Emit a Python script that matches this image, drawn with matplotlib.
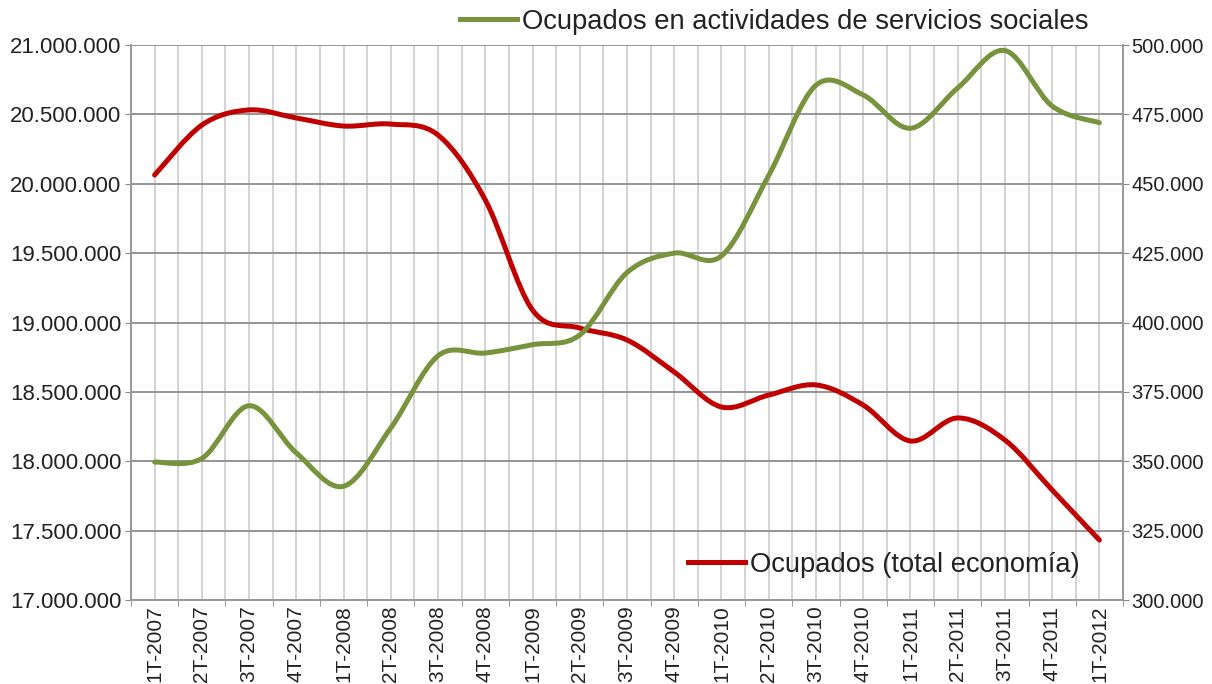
import matplotlib
matplotlib.use("Agg")
import matplotlib.pyplot as plt
from matplotlib.path import Path
from matplotlib.patches import PathPatch
from matplotlib.lines import Line2D
from matplotlib.ticker import FixedLocator

trimestres = ['1T-2007', '2T-2007', '3T-2007', '4T-2007',
              '1T-2008', '2T-2008', '3T-2008', '4T-2008',
              '1T-2009', '2T-2009', '3T-2009', '4T-2009',
              '1T-2010', '2T-2010', '3T-2010', '4T-2010',
              '1T-2011', '2T-2011', '3T-2011', '4T-2011',
              '1T-2012']

# ocupados total economia (eje izquierdo)
ocupados_total = [20063000, 20423000, 20532000, 20474000,
                  20416000, 20430000, 20351000, 19883000,
                  19090000, 18960000, 18874000, 18643000,
                  18391000, 18477000, 18550000, 18405000,
                  18146000, 18312000, 18153000, 17793000,
                  17432000]

# ocupados servicios sociales (eje derecho)
ocupados_sociales = [349700, 351000, 370000, 353000,
                     341000, 362000, 388000, 389000,
                     392000, 395500, 418000, 425000,
                     424000, 453000, 485500, 482000,
                     470000, 484500, 498000, 478000,
                     472000]

left_ticks = [17000000, 17500000, 18000000, 18500000,
              19000000, 19500000, 20000000, 20500000, 21000000]
left_labels = ['17.000.000', '17.500.000', '18.000.000', '18.500.000',
               '19.000.000', '19.500.000', '20.000.000', '20.500.000',
               '21.000.000']
right_ticks = [300000, 325000, 350000, 375000, 400000,
               425000, 450000, 475000, 500000]
right_labels = ['300.000', '325.000', '350.000', '375.000', '400.000',
                '425.000', '450.000', '475.000', '500.000']

RED = '#C00000'
GREEN = '#77933C'
FONT = ['Liberation Sans', 'DejaVu Sans']


def smooth_path(ys):
    # excel-style smoothed line: cubic bezier through every point
    xs = list(range(len(ys)))
    verts = [(xs[0], ys[0])]
    codes = [Path.MOVETO]
    n = len(ys)
    for i in range(n - 1):
        p0 = max(i - 1, 0)
        p3 = min(i + 2, n - 1)
        c1 = (xs[i] + (xs[i + 1] - xs[p0]) / 6, ys[i] + (ys[i + 1] - ys[p0]) / 6)
        c2 = (xs[i + 1] - (xs[p3] - xs[i]) / 6, ys[i + 1] - (ys[p3] - ys[i]) / 6)
        verts += [c1, c2, (xs[i + 1], ys[i + 1])]
        codes += [Path.CURVE4] * 3
    return Path(verts, codes)


fig = plt.figure(figsize=(12.12, 6.84), dpi=100)
ax = fig.add_axes([131 / 1212, 1 - 600 / 684, 992 / 1212, 555 / 684])
ax2 = ax.twinx()

ax.set_xlim(-0.5, len(trimestres) - 0.5)
ax.set_ylim(17000000, 21000000)
ax2.set_ylim(300000, 500000)

ax.xaxis.set_major_locator(FixedLocator(range(len(trimestres))))
ax.set_xticklabels(trimestres, rotation=90, fontsize=15, family=FONT, color='#222222')
ax.xaxis.set_minor_locator(FixedLocator([i - 0.5 for i in range(len(trimestres) + 1)]))
ax.set_yticks(left_ticks)
ax.set_yticklabels(left_labels, fontsize=16, family=FONT, color='#222222')
ax2.set_yticks(right_ticks)
ax2.set_yticklabels(right_labels, fontsize=14.5, family=FONT, color='#222222')

ax.grid(axis='x', which='both', color='#cccccc', linewidth=1.2)
ax.grid(axis='y', which='major', color='#8c8c8c', linewidth=1.3)
ax.set_axisbelow(True)
ax.tick_params(axis='x', which='major', length=0, pad=4)
ax.tick_params(axis='x', which='minor', length=4, color='#888888')
ax.tick_params(axis='y', length=4, color='#888888', pad=3)
ax2.tick_params(axis='y', length=4, color='#888888', pad=2)

for a in (ax, ax2):
    for s in a.spines.values():
        s.set_color('#999999')
        s.set_linewidth(1.2)
    a.spines['top'].set_visible(False)

ax.add_patch(PathPatch(smooth_path(ocupados_total), facecolor='none',
                       edgecolor=RED, linewidth=3.6, capstyle='round'))
ax2.add_patch(PathPatch(smooth_path(ocupados_sociales), facecolor='none',
                        edgecolor=GREEN, linewidth=3.6, capstyle='round'))

h_green = Line2D([], [], color=GREEN, linewidth=3.6)
h_red = Line2D([], [], color=RED, linewidth=3.6)
legend_font = {'family': FONT, 'size': 19.7}
leg1 = fig.legend([h_green], ['Ocupados en actividades de servicios sociales'],
                  loc='center left', bbox_to_anchor=(460 / 1212, 1 - 22 / 684),
                  frameon=False, borderpad=0, borderaxespad=0, handlelength=2.1,
                  handletextpad=0.15, prop=legend_font)
leg2 = fig.legend([h_red], ['Ocupados (total economía)'],
                  loc='center left', bbox_to_anchor=(688 / 1212, 1 - 565 / 684),
                  frameon=False, borderpad=0, borderaxespad=0, handlelength=2.1,
                  handletextpad=0.15, prop=legend_font)
for leg in (leg1, leg2):
    for t in leg.get_texts():
        t.set_color('#222222')

fig.savefig('out.png', dpi=100)
